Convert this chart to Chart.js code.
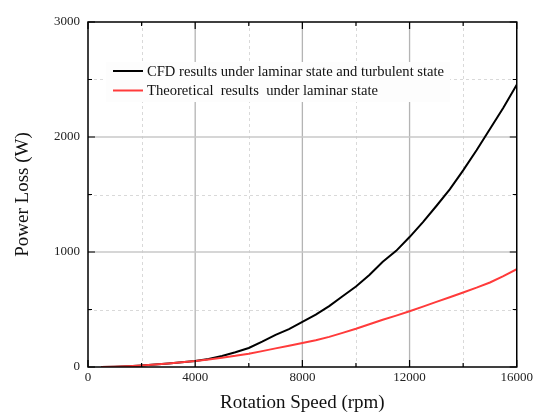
<!DOCTYPE html>
<html>
<head>
<meta charset="utf-8">
<script src="https://cdn.jsdelivr.net/npm/chart.js@4"></script>
<style>
  html, body { margin: 0; padding: 0; background: #fff; }
  canvas { display: block; }
</style>
</head>
<body>
<canvas id="loss" width="536" height="415"></canvas>
<script>
//Data
const speeds = [500, 1000, 1500, 2000, 2500, 3000, 3500, 4000, 4500, 5000, 5500, 6000, 6500, 7000, 7500, 8000,
  8500, 9000, 9500, 10000, 10500, 11000, 11500, 12000, 12500, 13000, 13500, 14000, 14500, 15000, 15500, 16000];
const cfdLoss = [1, 3, 7, 13, 21, 30, 41, 53, 70, 96, 128, 165, 220, 280, 330, 392,
  455, 530, 615, 700, 800, 915, 1010, 1130, 1260, 1400, 1545, 1710, 1885, 2070, 2255, 2455];
const theoryLoss = [1, 3, 7, 13, 21, 30, 41, 53, 66, 81, 97, 116, 138, 162, 185, 208,
  233, 262, 297, 333, 372, 411, 447, 485, 525, 566, 606, 648, 690, 735, 790, 850];
const xTicks = [0, 4000, 8000, 12000, 16000];
const xMinor = [2000, 6000, 10000, 14000];
const yTicks = [0, 1000, 2000, 3000];
const yMinor = [500, 1500, 2500];
const seriesNames = ["CFD results under laminar state and turbulent state", "Theoretical  results  under laminar state"];
const seriesColors = ["#000000", "#ff3b3b"];

const serif = "'Liberation Serif', 'DejaVu Serif', serif";

//------------------------------------------

//grid, frame and inward ticks
const frame = {
  id: 'frame',
  beforeDatasetsDraw(chart) {
    const {ctx, chartArea: {top, right, bottom, left}, scales: {x, y}} = chart;
    ctx.save();
    // minor dashed grid
    ctx.strokeStyle = '#d9d9d9';
    ctx.lineWidth = 1;
    ctx.setLineDash([3, 3]);
    xMinor.forEach(v => {
      const px = Math.round(x.getPixelForValue(v)) + 0.5;
      ctx.beginPath(); ctx.moveTo(px, top); ctx.lineTo(px, bottom); ctx.stroke();
    });
    yMinor.forEach(v => {
      const py = Math.round(y.getPixelForValue(v)) + 0.5;
      ctx.beginPath(); ctx.moveTo(left, py); ctx.lineTo(right, py); ctx.stroke();
    });
    // major grid
    ctx.setLineDash([]);
    ctx.strokeStyle = '#b4b4b4';
    ctx.lineWidth = 1.3;
    xTicks.slice(1, -1).forEach(v => {
      const px = x.getPixelForValue(v);
      ctx.beginPath(); ctx.moveTo(px, top); ctx.lineTo(px, bottom); ctx.stroke();
    });
    ctx.strokeStyle = '#c8c8c8';
    ctx.lineWidth = 1.6;
    yTicks.slice(1, -1).forEach(v => {
      const py = y.getPixelForValue(v);
      ctx.beginPath(); ctx.moveTo(left, py); ctx.lineTo(right, py); ctx.stroke();
    });
    ctx.restore();
  },
  afterDatasetsDraw(chart) {
    const {ctx, chartArea: {top, right, bottom, left}, scales: {x, y}} = chart;
    ctx.save();
    ctx.strokeStyle = '#000';
    ctx.lineWidth = 1.2;
    const tick = (vals, len, horiz) => vals.forEach(v => {
      ctx.beginPath();
      if (horiz) {
        const px = x.getPixelForValue(v);
        ctx.moveTo(px, bottom); ctx.lineTo(px, bottom - len);
        ctx.moveTo(px, top); ctx.lineTo(px, top + len);
      } else {
        const py = y.getPixelForValue(v);
        ctx.moveTo(left, py); ctx.lineTo(left + len, py);
        ctx.moveTo(right, py); ctx.lineTo(right - len, py);
      }
      ctx.stroke();
    });
    tick(xTicks, 7, true);
    tick(xMinor, 4, true);
    tick(yTicks, 7, false);
    tick(yMinor, 4, false);
    ctx.lineWidth = 1.5;
    ctx.strokeRect(left, top, right - left, bottom - top);
    ctx.restore();
  }
};

//legend inside the plot
const innerLegend = {
  id: 'innerLegend',
  afterDraw(chart) {
    const {ctx} = chart;
    ctx.save();
    ctx.fillStyle = '#fdfdfd';
    ctx.fillRect(106, 62, 344, 40);
    ctx.font = '14.6px ' + serif;
    ctx.textBaseline = 'middle';
    seriesNames.forEach((name, i) => {
      const yy = 71 + i * 19.5;
      ctx.strokeStyle = seriesColors[i];
      ctx.lineWidth = 2;
      ctx.beginPath(); ctx.moveTo(113, yy); ctx.lineTo(143, yy); ctx.stroke();
      ctx.fillStyle = '#111';
      ctx.fillText(name, 147, yy + 1);
    });
    ctx.restore();
  }
};

//------------------------------------------

const data = {
  labels: speeds,
  datasets: [
    {label: seriesNames[0], data: cfdLoss, borderColor: seriesColors[0], borderWidth: 2, pointRadius: 0, order: 1},
    {label: seriesNames[1], data: theoryLoss, borderColor: seriesColors[1], borderWidth: 2, pointRadius: 0, order: 0}
  ]
};

const config = {
  type: 'line',
  data: data,
  options: {
    responsive: false,
    animation: false,
    layout: {padding: {left: 0, top: 22, right: 19, bottom: 0}},
    plugins: {legend: {display: false}, tooltip: {enabled: false}},
    scales: {
      x: {
        type: 'linear', min: 0, max: 16000,
        afterBuildTicks(scale) { scale.ticks = xTicks.map(v => ({value: v})); },
        afterFit(scale) { scale.height = 48; },
        grid: {display: false, drawTicks: false},
        border: {display: false},
        ticks: {color: '#222', padding: 3, maxRotation: 0, font: {family: serif, size: 13}, callback: v => String(v)},
        title: {display: true, text: 'Rotation Speed (rpm)', color: '#111', padding: {top: 0, bottom: 1}, font: {family: serif, size: 19}}
      },
      y: {
        min: 0, max: 3000,
        afterBuildTicks(scale) { scale.ticks = yTicks.map(v => ({value: v})); },
        afterFit(scale) { scale.width = 88; },
        grid: {display: false, drawTicks: false},
        border: {display: false},
        ticks: {color: '#222', padding: 8, font: {family: serif, size: 13}, callback: v => String(v)},
        title: {display: true, text: 'Power Loss (W)', color: '#111', padding: {top: 12, bottom: 0}, font: {family: serif, size: 19}}
      }
    }
  },
  plugins: [frame, innerLegend]
};

//Render chart
const lossChart = new Chart(document.getElementById('loss'), config);
</script>
</body>
</html>
